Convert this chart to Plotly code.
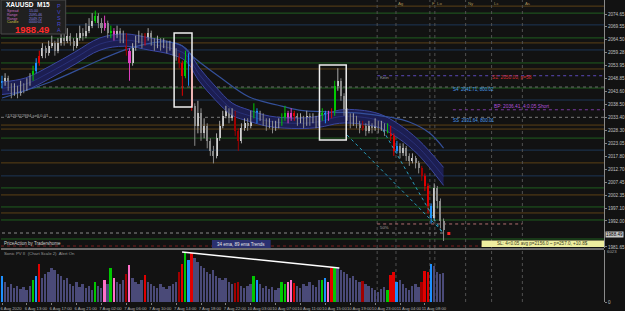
import plotly.graph_objects as go

# ---------------- DATA ----------------
# one candle per two M15 bars; x = M15 bar index
candle_x = list(range(0, 286, 2))

opens = [2047,2048,2049,2046,2044,2045,2043,2046,2045,2047,
         2049,2052,2055,2058,2061,2059,2062,2063,2060,2063,
         2065,2064,2066,2064,2062,2065,2067,2066,2068,2070,
         2072,2074,2071,2069,2071,2067,2068,2066,2068,2065,
         2066,2060,2055,2061,2064,2066,2063,2065,2067,2064,
         2062,2064,2062,2063,2061,2062,2060,2058,2055,2050,
         2058,2054,2038,2030,2035,2027,2030,2024,2020,2018,
         2025,2030,2034,2036,2033,2035,2028,2024,2029,2031,
         2030,2034,2036,2033,2034,2032,2030,2031,2029,2030,
         2031,2033,2035,2033,2035,2034,2032,2033,2031,2034,
         2032,2033,2031,2033,2035,2033,2034,2035,2046,2048,
         2042,2036,2034,2031,2033,2031,2029,2030,2028,2030,
         2029,2031,2029,2030,2028,2029,2026,2020,2022,2019,
         2021,2018,2016,2017,2015,2013,2010,2006,1998,1993,
         2005,2000,1992]
highs = [2050,2051,2050,2047,2047,2046,2048,2047,2049,2051,
         2054,2057,2060,2063,2062,2064,2066,2064,2065,2067,
         2067,2069,2067,2065,2067,2070,2069,2071,2073,2075,
         2076,2075,2073,2074,2072,2070,2069,2070,2069,2068,
         2067,2061,2063,2066,2068,2067,2067,2069,2068,2065,
         2066,2065,2065,2064,2064,2063,2061,2059,2056,2060,
         2059,2055,2039,2040,2037,2033,2031,2025,2022,2027,
         2032,2036,2038,2037,2037,2036,2029,2031,2033,2033,
         2036,2039,2037,2036,2035,2033,2033,2032,2032,2033,
         2035,2038,2036,2037,2036,2035,2035,2034,2036,2035,
         2035,2034,2035,2037,2036,2036,2037,2048,2053,2049,
         2043,2037,2035,2035,2034,2032,2032,2031,2032,2031,
         2033,2032,2032,2031,2031,2030,2027,2024,2023,2023,
         2022,2019,2019,2018,2016,2014,2011,2007,1999,2007,
         2006,2001,1993]
lows = [2045,2046,2044,2041,2042,2041,2042,2043,2044,2046,
        2048,2051,2054,2057,2057,2058,2061,2058,2059,2062,
        2062,2063,2062,2060,2061,2064,2064,2065,2067,2069,
        2071,2069,2067,2068,2065,2065,2064,2065,2063,2063,
        2058,2048,2054,2060,2063,2061,2062,2064,2062,2060,
        2061,2060,2061,2059,2060,2058,2056,2053,2042,2049,
        2046,2036,2022,2027,2024,2025,2021,2018,2015,2017,
        2024,2029,2033,2031,2032,2026,2020,2023,2028,2028,
        2029,2033,2031,2032,2030,2028,2029,2027,2028,2029,
        2030,2032,2031,2032,2032,2030,2031,2029,2030,2030,
        2031,2029,2030,2032,2031,2032,2033,2034,2044,2040,
        2034,2032,2029,2030,2029,2027,2028,2026,2027,2027,
        2028,2027,2028,2026,2027,2024,2018,2019,2017,2018,
        2016,2014,2015,2013,2011,2008,2004,1995,1991,1992,
        1997,1989,1984]
closes = [2048,2049,2046,2044,2045,2043,2046,2045,2047,2049,
          2052,2055,2058,2061,2059,2062,2063,2060,2063,2065,
          2064,2066,2064,2062,2065,2067,2066,2068,2070,2072,
          2074,2071,2069,2071,2067,2068,2066,2068,2065,2066,
          2060,2055,2061,2064,2066,2063,2065,2067,2064,2062,
          2064,2062,2063,2061,2062,2060,2058,2055,2050,2058,
          2054,2038,2030,2035,2027,2030,2024,2020,2018,2025,
          2030,2034,2036,2033,2035,2028,2024,2029,2031,2030,
          2034,2036,2033,2034,2032,2030,2031,2029,2030,2031,
          2033,2035,2033,2035,2034,2032,2033,2031,2034,2032,
          2033,2031,2033,2035,2033,2034,2035,2046,2048,2042,
          2036,2034,2031,2033,2031,2029,2030,2028,2030,2029,
          2031,2029,2030,2028,2029,2026,2020,2022,2019,2021,
          2018,2016,2017,2015,2013,2010,2006,1998,1993,2005,
          2000,1992,1988.49]
# PVSRA class per candle: n normal, g green, r red, d dark red, b blue, m magenta
pv_class = list("bnnnnnnnnn" "gbrnnnnnnn" "nnnnnnnnnn" "gnnmngmnnn" "dmnnnnrnnn"
                "nnnnnnndrg" "brnnnnnnnn" "nnnnnddnnn" "ngbnnnnnnn" "ggmmrnnnnn"
                "nnngbmrgnn" "nnnnnndnnn" "nnnngrrbnn" "nnnnndrrbn" "nnn")
volumes = [26,20,15,18,14,16,13,15,12,16,
           22,26,38,24,28,30,34,32,28,26,
           22,24,18,16,20,15,18,14,16,12,
           20,16,14,22,18,34,24,20,18,22,
           28,37,24,20,18,22,27,20,18,16,
           14,18,15,13,16,18,20,30,38,50,
           42,49,44,40,36,34,30,28,32,26,
           24,22,24,20,18,19,20,16,14,16,
           18,26,22,18,14,16,13,15,12,14,
           20,18,20,22,19,16,14,18,16,20,
           17,15,22,22,24,20,34,35,34,32,
           30,28,24,26,22,20,21,18,16,14,
           12,10,13,15,12,27,30,20,22,18,
           14,12,16,18,15,20,31,30,38,36,
           30,28,29]

# EMA ribbon (34 ema) edges and slow 89 ema, read at sparse bar indexes
band_x = [0,15,31,47,63,79,95,108,118,127,137,148,159,172,191,204,217,230,243,255,268,284]
band_upper = [2047.5,2049.1,2053.9,2059.5,2065.1,2066.7,2065.1,2063.5,2061.1,2053.1,2045.9,
              2039.1,2036.3,2033.9,2033.1,2033.9,2036.3,2036.3,2034.7,2030.7,2024.3,2013.4]
band_lower = [2042.5,2044.1,2049.0,2054.6,2060.2,2061.8,2060.2,2058.6,2056.0,2047.7,2040.5,
              2034.2,2031.8,2029.7,2028.9,2029.4,2031.0,2030.8,2029.2,2025.0,2018.3,2006.2]
slow_x = [0,31,63,83,102,115,123,140,159,177,191,211,230,249,262,275,284]
slow_ema = [2041.1,2047.5,2056.3,2061.1,2063.5,2062.3,2057.5,2049.5,2041.5,2038.3,2036.3,
            2035.5,2035.1,2033.5,2031.5,2027.1,2021.1]

# horizontal level lines (price, kind)
levels = [2077.8,2075.0,2070.3,2065.1,2063.1,2060.3,2055.1,2052.7,2045.1,2040.3,2030.3,
          2028.7,2025.1,2020.3,2015.2,2010.0,2005.2,2002.4,1997.6,1995.2,1992.4,1984.8]
level_kind = ["o","g","b","g","o","b","g","o","g","b","o",
              "o","g","b","o","b","g","o","g","o","g","g"]

# session separators (bar index) and labels
session_x = [241.3,253.4,275.2,278.4,298.2,314.9,334.7]
session_lbl = ["","Ag","F","Lo","Ny","Lc","As"]

price_ticks = [2074.65,2069.55,2064.50,2059.28,2053.95,2048.85,2043.60,2038.50,2033.40,
               2028.30,2023.05,2017.80,2012.70,2007.45,2002.35,1997.10,1992.00,1981.65]
time_ticks = list(range(0, 273, 16))
time_labels = ["6 Aug 2020","6 Aug 13:00","6 Aug 17:00","6 Aug 21:00","7 Aug 02:00","7 Aug 06:00",
               "7 Aug 10:00","7 Aug 14:00","7 Aug 18:00","7 Aug 22:00","10 Aug 03:00","10 Aug 07:00",
               "10 Aug 11:00","10 Aug 15:00","10 Aug 19:00","10 Aug 23:00","11 Aug 04:00","11 Aug 08:00"]

last_price = 1988.49
sell_price = 2033.40
s1_price = 2050.00
bp_price = 2036.41
fib50 = 1990.8
bid_line = 1987.2
stop_line = 1982.0
grey_line = 2045.5

# ---------------- STYLE / LAYOUT ----------------
W, H = 625, 311
MR, MB = 19, 9
PW, PH = W - MR, H - MB
BG = "#121212"
FONT = "Liberation Sans"

def fx(p):
    return p / PW

def fy(p):
    return 1 - p / PH

cls_col = {"g": "#00c800", "r": "#e00000", "d": "#a00000", "b": "#1e90ff", "m": "#e040c0"}
vol_col = {"g": "#00c800", "r": "#e00000", "d": "#a00000", "b": "#1e90ff", "m": "#ff70c8", "n": "#4a4a78"}

fig = go.Figure()

# ribbon
fig.add_trace(go.Scatter(x=band_x, y=band_upper, mode="lines", line=dict(color="#3a47a0", width=1, shape="spline"),
                         hoverinfo="skip", xaxis="x", yaxis="y"))
fig.add_trace(go.Scatter(x=band_x, y=band_lower, mode="lines", line=dict(color="#3a47a0", width=1, shape="spline"),
                         fill="tonexty", fillcolor="#1c1e52", hoverinfo="skip", xaxis="x", yaxis="y"))
mid = [(a + b) / 2 for a, b in zip(band_upper, band_lower)]
fig.add_trace(go.Scatter(x=band_x, y=mid, mode="lines", line=dict(color="#2c3580", width=0.8, shape="spline"),
                         hoverinfo="skip", xaxis="x", yaxis="y"))
fig.add_trace(go.Scatter(x=slow_x, y=slow_ema, mode="lines", line=dict(color="#34509a", width=1.2, shape="spline"),
                         hoverinfo="skip", xaxis="x", yaxis="y"))

# candles: wicks grouped by colour
def candle_color(i):
    c = pv_class[i]
    if c == "n":
        return "#d4d4d4" if closes[i] >= opens[i] else "#8a8a8a"
    return cls_col[c]

cols = [candle_color(i) for i in range(len(closes))]
for col in sorted(set(cols)):
    xs, ys = [], []
    for i, c in enumerate(cols):
        if c == col:
            xs += [candle_x[i], candle_x[i], None]
            ys += [lows[i], highs[i], None]
    wick_col = col if col not in ("#d4d4d4",) else "#a8a8a8"
    fig.add_trace(go.Scatter(x=xs, y=ys, mode="lines", line=dict(color=wick_col, width=1),
                             hoverinfo="skip", xaxis="x", yaxis="y"))
body_len = [max(abs(c - o), 0.4) for o, c in zip(opens, closes)]
body_base = [min(o, c) for o, c in zip(opens, closes)]
fig.add_trace(go.Bar(x=candle_x, y=body_len, base=body_base, width=1.3,
                     marker=dict(color=cols, line=dict(width=0)), xaxis="x", yaxis="y"))

# last-price marker
fig.add_trace(go.Scatter(x=[287.4], y=[1987.0], mode="markers",
                         marker=dict(symbol="square", size=3, color="#ff2020"), xaxis="x", yaxis="y"))

# volume histogram
fig.add_trace(go.Bar(x=candle_x, y=volumes, width=1.2,
                     marker=dict(color=[vol_col[c] for c in pv_class], line=dict(width=0)),
                     xaxis="x", yaxis="y2"))

shapes = []
kind_col = {"g": "#1f5e1f", "o": "#5c4016", "b": "#1d3656"}
for lv, k in zip(levels, level_kind):
    shapes.append(dict(type="line", xref="paper", x0=0, x1=1, yref="y", y0=lv, y1=lv,
                       line=dict(color=kind_col[k], width=1), layer="below"))
# dotted order / info lines
shapes += [
    dict(type="line", xref="paper", x0=0, x1=1, yref="y", y0=grey_line, y1=grey_line,
         line=dict(color="#6a6a6a", width=1, dash="dot"), layer="below"),
    dict(type="line", xref="paper", x0=0, x1=1, yref="y", y0=sell_price, y1=sell_price,
         line=dict(color="#7a7a7a", width=1, dash="dot"), layer="below"),
    dict(type="line", xref="x", x0=241.3, x1=387.2, yref="y", y0=s1_price, y1=s1_price,
         line=dict(color="#5a48b8", width=1, dash="dot"), layer="below"),
    dict(type="line", xref="x", x0=290, x1=387.2, yref="y", y0=bp_price, y1=bp_price,
         line=dict(color="#7a3aa0", width=1, dash="dot"), layer="below"),
    dict(type="line", xref="x", x0=241.3, x1=334.7, yref="y", y0=fib50, y1=fib50,
         line=dict(color="#b07070", width=1, dash="dot"), layer="below"),
    dict(type="line", xref="x", x0=0, x1=285, yref="y", y0=bid_line, y1=bid_line,
         line=dict(color="#8a8a8a", width=1, dash="dot"), layer="below"),
    dict(type="line", xref="paper", x0=0, x1=1, yref="y", y0=stop_line, y1=stop_line,
         line=dict(color="#7a2020", width=1, dash="dot"), layer="below"),
]
for sx in session_x:
    shapes.append(dict(type="line", xref="x", x0=sx, x1=sx, yref="paper", y0=0, y1=1,
                       line=dict(color="#505050", width=1, dash="dot"), layer="below"))
# highlight boxes
shapes += [
    dict(type="rect", xref="x", yref="y", x0=110.7, x1=122.2, y0=2037.5, y1=2067.1,
         line=dict(color="#f0f0f0", width=1.5)),
    dict(type="rect", xref="x", yref="y", x0=204.2, x1=221.4, y0=2024.3, y1=2054.3,
         line=dict(color="#f0f0f0", width=1.5)),
    dict(type="line", xref="x", yref="y", x0=222.0, y0=2026.3, x1=284.2, y1=1987.2,
         line=dict(color="#2aa0c0", width=1, dash="dot")),
    dict(type="line", xref="x", yref="y", x0=245.0, y0=2028.3, x1=282.8, y1=1987.6,
         line=dict(color="#2aa0c0", width=1, dash="dot")),
    dict(type="line", xref="x", yref="y2", x0=115.8, y0=50, x1=217, y1=34,
         line=dict(color="#ffffff", width=1.5)),
    # panel divider
    dict(type="line", xref="paper", x0=0, x1=1, yref="paper", y0=fy(249), y1=fy(249),
         line=dict(color="#8a8a8a", width=1.5)),
    # info panel
    dict(type="rect", xref="paper", yref="paper", x0=fx(0), x1=fx(65), y0=fy(34), y1=fy(0),
         fillcolor="#202020", line=dict(color="#4a4a4a", width=1)),
    # ema label box
    dict(type="rect", xref="paper", yref="paper", x0=fx(212), x1=fx(271), y0=fy(248), y1=fy(240),
         fillcolor="#2b3070", line=dict(width=0)),
    # SL info box
    dict(type="rect", xref="paper", yref="paper", x0=fx(483), x1=fx(606), y0=fy(247), y1=fy(240.5),
         fillcolor="#eeeea0", line=dict(width=0)),
]

ann = []
def T(text, px, py, color="#b0b0b0", size=5, anchor="left", bold=False, **kw):
    if bold:
        text = "<b>" + text + "</b>"
    d = dict(text=text, xref="paper", yref="paper", x=fx(px), y=fy(py), xanchor=anchor,
             yanchor="middle", showarrow=False, font=dict(color=color, size=size, family=FONT),
             borderpad=0)
    d.update(kw)
    ann.append(d)

T("XAUUSD  M15", 4, 5, "#ffffff", 6.5, bold=True)
T("Spread", 5, 11, "#c870c0", 3.6); T("15.00", 27, 11, "#8a80e0", 3.6)
T("Range", 5, 15, "#c870c0", 3.6); T("2095.46", 27, 15, "#8a80e0", 3.6)
T("Range", 5, 19, "#c870c0", 3.6); T("2049.72", 27, 19, "#8a80e0", 3.6)
T("Candle", 5, 22.5, "#c8c040", 3.6); T("0000:01", 27, 22.5, "#8a80e0", 3.6)
T("1988.49", 13, 29.5, "#ff2a2a", 9.5, bold=True)
for k, ch in enumerate("PVSRA"):
    T(ch, 58, 6 + 6 * k, "#4848c8", 5.5, anchor="center")
T("#1326322994 sell 0.01", 3, 115.5, "#a8a8a8", 4.3)
T("Kein", 380, 77, "#a0a0a0", 4.3)
T("S1: 2050.00, p=58", 492, 77, "#d83030", 4.8)
T("S4  2041.71, 800.02", 453, 89, "#4a9ae8", 4.5)
T("BP: 2036.41, 4:0.05 Short", 494, 107, "#b050d8", 4.8)
T("SS  2031.64, 800.01", 453, 120, "#4a9ae8", 4.5)
T("50%", 380, 227, "#a0a0a0", 4.3)
T("PriceAction by Tradershome", 2, 243, "#d0d0d0", 4.5)
T("34 ema, 89 ema Trends", 241.5, 244, "#e8e8e8", 4.5, anchor="center")
T("SL: 4<0.05 avg p=2156.0 ~ p=257.0, +10.8$", 544.5, 243.8, "#404020", 4.6, anchor="center")
T("Sonic PV II  (Chart Scale 2)  Alert On", 2, 253.5, "#9a9a9a", 4.3)
for sx, lb in zip(session_x, session_lbl):
    if lb:
        T(lb, 1 + sx * 1.5625 + 1.5, 3.5, "#a89058", 4.3)
# price labels on the right axis
T("1988.49", 607, 234, "#000000", 4.6, bgcolor="#c8c8c8")
T("6023", 608, 251.5, "#a0a0a0", 4.3)

fig.update_layout(
    width=W, height=H, margin=dict(l=0, r=MR, t=0, b=MB),
    paper_bgcolor=BG, plot_bgcolor=BG, showlegend=False, barmode="overlay", bargap=0,
    font=dict(family=FONT, color="#b0b0b0", size=5),
    shapes=shapes, annotations=ann,
    xaxis=dict(domain=[0, 1], anchor="y2", range=[-0.64, 387.2], tickvals=time_ticks, ticktext=time_labels,
               tickfont=dict(size=4.2, color="#b0b0b0"), tickangle=0, ticks="outside", ticklen=2,
               tickcolor="#808080", ticklabelshift=9, ticklabelstandoff=0, ticklabeloverflow="allow",
               showgrid=False, zeroline=False, showline=False),
    yaxis=dict(domain=[54 / PH, 1], anchor="x", side="right", range=[1981.21, 2080.24],
               tickvals=price_ticks, ticktext=["%.2f" % v for v in price_ticks],
               tickfont=dict(size=4.6, color="#c0c0c0"), ticks="outside", ticklen=2, tickcolor="#808080",
               showgrid=False, zeroline=False, showline=True, linecolor="#8a8a8a", linewidth=1),
    yaxis2=dict(domain=[0, 52 / PH], anchor="x", side="right", range=[0, 52], tickvals=[0], ticktext=["0"],
                tickfont=dict(size=4.6, color="#c0c0c0"), ticks="outside", ticklen=2, tickcolor="#808080",
                showgrid=False, zeroline=False, showline=True, linecolor="#8a8a8a", linewidth=1),
)

fig.write_html("out.html")
